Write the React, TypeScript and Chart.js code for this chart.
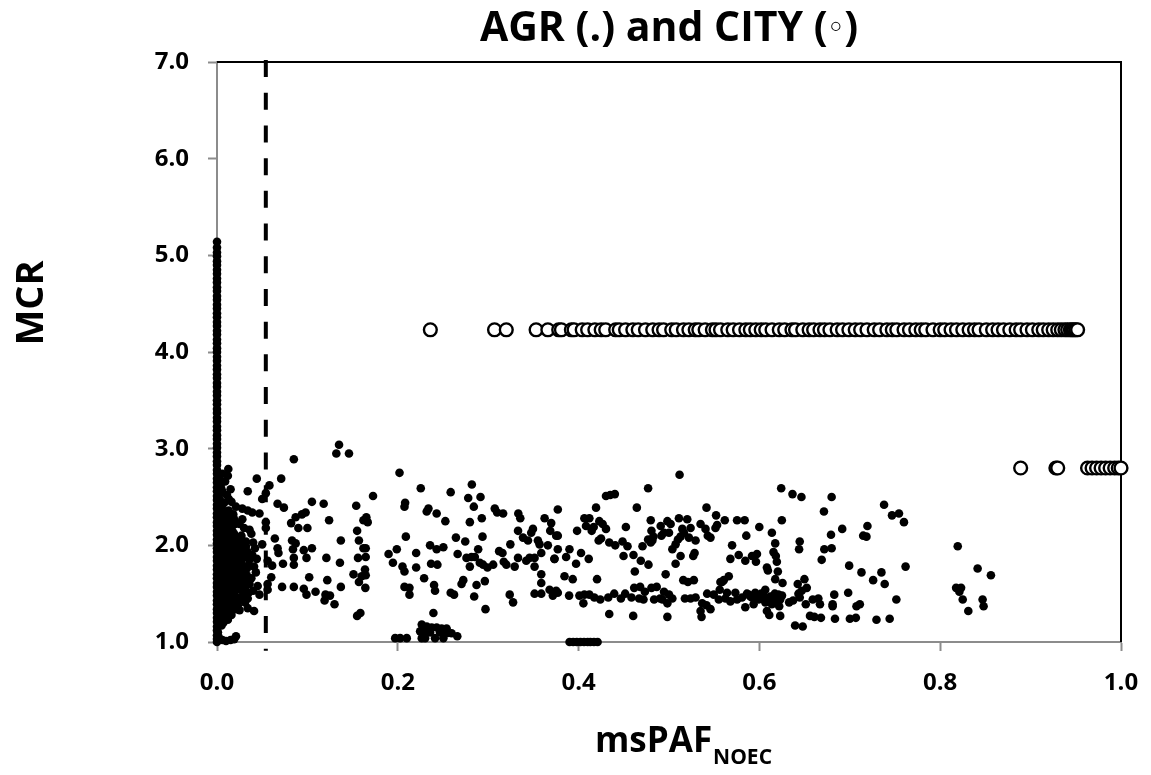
import { useEffect, useRef } from "react";
import { Chart, registerables } from "chart.js";

Chart.register(...registerables);

const FONT = "'Open Sans', 'DejaVu Sans', sans-serif";
const TITLE_PARTS = ["AGR (.) and CITY (", "◦", ")"];
const Y_TITLE = "MCR";
const X_TITLE_MAIN = "msPAF";
const X_TITLE_SUB = "NOEC";
const X_TICKS = [0, 0.2, 0.4, 0.6, 0.8, 1.0];
const Y_TICKS = [1, 2, 3, 4, 5, 6, 7];
const THRESHOLD_X = 0.054;
const THRESHOLD_Y = [7.02, 0.91];

// AGR points sitting on msPAF = 0 (the dense vertical bar)
const agrZeroY = [
  1.0, 1.03, 1.07, 1.12, 1.16, 1.21, 1.25, 1.3, 1.34, 1.39, 1.43, 1.48, 1.52, 1.57, 1.61, 1.66,
  1.7, 1.75, 1.79, 1.84, 1.88, 1.93, 1.97, 2.02, 2.06, 2.11, 2.15, 2.2, 2.24, 2.29, 2.33, 2.38,
  2.42, 2.47, 2.51, 2.56, 2.6, 2.65, 2.69, 2.74, 2.78, 2.83, 2.87, 2.92, 2.96, 3.01, 3.05, 3.1,
  3.14, 3.19, 3.23, 3.28, 3.32, 3.37, 3.41, 3.46, 3.5, 3.55, 3.59, 3.64, 3.68, 3.73, 3.77, 3.82,
  3.86, 3.91, 3.95, 4.0, 4.04, 4.09, 4.13, 4.18, 4.22, 4.27, 4.31, 4.36, 4.4, 4.45, 4.49, 4.54,
  4.58, 4.63, 4.67, 4.72, 4.76, 4.81, 4.85, 4.9, 4.94, 4.99, 5.03, 5.08, 5.14,
];

// AGR dense cluster just right of zero
const agrCluster: [number, number][] = [
  [0.004, 2.62], [0.006, 2.55], [0.003, 2.48], [0.008, 2.44], [0.005, 2.38], [0.01, 2.35], [0.004, 2.31],
  [0.007, 2.27], [0.012, 2.24], [0.003, 2.2], [0.009, 2.18], [0.006, 2.14], [0.014, 2.12], [0.004, 2.09],
  [0.011, 2.06], [0.007, 2.03], [0.016, 2.01], [0.003, 1.98], [0.01, 1.96], [0.005, 1.93], [0.013, 1.91],
  [0.008, 1.88], [0.004, 1.85], [0.011, 1.83], [0.006, 1.8], [0.015, 1.78], [0.003, 1.75], [0.009, 1.73],
  [0.005, 1.7], [0.012, 1.68], [0.007, 1.65], [0.004, 1.62], [0.01, 1.6], [0.006, 1.57], [0.013, 1.55],
  [0.003, 1.52], [0.008, 1.5], [0.005, 1.47], [0.011, 1.45], [0.004, 1.42], [0.007, 1.39], [0.009, 1.36],
  [0.005, 1.33], [0.006, 1.29], [0.004, 1.25],
  [0.002, 2.41], [0.007, 2.34], [0.003, 2.25], [0.009, 2.22], [0.002, 2.15], [0.008, 2.1], [0.002, 2.04],
  [0.006, 1.99], [0.009, 1.94], [0.002, 1.9], [0.007, 1.85], [0.009, 1.79], [0.002, 1.72], [0.008, 1.68],
  [0.002, 1.64], [0.008, 1.61], [0.003, 1.56], [0.01, 1.52], [0.002, 1.46], [0.007, 1.43], [0.002, 1.37],
  [0.004, 1.33], [0.008, 1.28], [0.003, 1.22], [0.005, 1.17], [0.003, 2.68], [0.006, 2.74],
  [0.014, 2.3], [0.013, 2.19], [0.015, 2.07], [0.012, 1.97], [0.016, 1.93], [0.014, 1.85], [0.012, 1.79],
  [0.016, 1.72], [0.014, 1.64], [0.012, 1.6], [0.015, 1.5], [0.013, 1.46], [0.014, 1.4], [0.012, 1.34],
  [0.018, 2.32], [0.02, 2.22], [0.017, 2.15], [0.022, 2.08], [0.019, 2.03], [0.024, 1.98], [0.018, 1.94],
  [0.021, 1.89], [0.025, 1.86], [0.017, 1.82], [0.023, 1.78], [0.019, 1.74], [0.026, 1.71], [0.016, 1.67],
  [0.022, 1.63], [0.02, 1.59], [0.024, 1.55], [0.017, 1.51], [0.021, 1.47], [0.018, 1.42], [0.023, 1.38],
  [0.019, 2.12], [0.021, 1.99], [0.018, 1.87], [0.02, 1.8], [0.022, 1.69], [0.019, 1.55], [0.018, 1.35],
  [0.028, 2.27], [0.03, 2.18], [0.027, 2.1], [0.032, 2.04], [0.029, 1.97], [0.034, 1.93], [0.031, 1.88],
  [0.027, 1.84], [0.035, 1.8], [0.03, 1.75], [0.033, 1.69], [0.028, 1.64], [0.036, 1.6], [0.031, 1.55],
  [0.029, 1.49], [0.034, 1.45], [0.027, 1.92], [0.029, 1.78], [0.027, 1.58],
  [0.038, 2.12], [0.04, 2.03], [0.042, 1.97], [0.039, 1.9], [0.044, 1.86], [0.041, 1.78], [0.043, 1.72],
  [0.038, 1.66], [0.045, 1.58], [0.04, 1.53],
  [0.005, 2.58], [0.011, 2.52], [0.016, 2.45], [0.006, 2.42], [0.013, 2.36], [0.019, 2.27], [0.025, 2.22],
  [0.011, 2.16], [0.017, 2.09], [0.026, 2.03], [0.032, 1.99], [0.009, 2.0], [0.015, 1.95], [0.023, 1.92],
  [0.028, 1.88], [0.036, 1.85], [0.011, 1.87], [0.006, 1.83], [0.02, 1.84], [0.026, 1.79], [0.033, 1.76],
  [0.012, 1.74], [0.017, 1.7], [0.025, 1.66], [0.031, 1.62], [0.009, 1.63], [0.015, 1.58], [0.022, 1.55],
  [0.028, 1.53], [0.035, 1.51], [0.011, 1.5], [0.018, 1.47], [0.025, 1.44], [0.031, 1.41], [0.014, 1.37],
  [0.021, 1.34], [0.009, 1.31], [0.016, 1.28], [0.012, 1.23], [0.007, 1.2],
  [0.013, 2.48], [0.015, 2.58], [0.021, 2.4], [0.009, 2.66], [0.012, 2.72],
  [0.002, 1.05], [0.006, 1.02], [0.01, 1.01], [0.015, 1.02], [0.019, 1.03], [0.001, 1.1], [0.002, 1.18],
];

// AGR scattered points
const agrScatter: [number, number][] = [
  [0.135, 3.04], [0.132, 2.95], [0.146, 2.95], [0.085, 2.89], [0.0125, 2.79], [0.044, 2.69], [0.071, 2.69],
  [0.058, 2.62], [0.054, 2.54], [0.05, 2.48], [0.034, 2.56], [0.067, 2.43], [0.074, 2.39], [0.105, 2.45],
  [0.118, 2.43], [0.154, 2.41], [0.028, 2.38], [0.034, 2.36], [0.039, 2.34], [0.047, 2.33], [0.098, 2.34],
  [0.094, 2.32], [0.087, 2.29], [0.082, 2.23], [0.124, 2.26], [0.162, 2.26], [0.1, 2.18], [0.09, 2.18],
  [0.054, 2.24], [0.054, 2.18], [0.036, 2.16], [0.155, 2.15], [0.064, 2.07], [0.083, 2.05], [0.087, 2.02],
  [0.137, 2.05], [0.157, 2.05], [0.05, 2.01], [0.067, 1.97], [0.068, 1.92], [0.084, 1.96], [0.085, 1.87],
  [0.105, 1.97], [0.096, 1.95], [0.099, 1.87], [0.121, 1.87], [0.162, 1.97], [0.156, 1.87], [0.056, 1.84],
  [0.073, 1.81], [0.085, 1.8], [0.136, 1.82], [0.061, 1.79], [0.151, 1.7], [0.157, 1.62], [0.16, 1.68],
  [0.102, 1.67], [0.06, 1.67], [0.122, 1.64], [0.056, 1.6], [0.056, 1.54], [0.072, 1.57], [0.085, 1.57],
  [0.096, 1.55], [0.099, 1.49], [0.109, 1.52], [0.12, 1.49], [0.125, 1.48], [0.119, 1.43], [0.13, 1.39],
  [0.137, 1.57], [0.047, 1.49], [0.155, 1.27], [0.025, 1.33], [0.034, 1.35], [0.041, 1.32], [0.021, 1.06],
  [0.1726, 2.51], [0.2019, 2.75], [0.2254, 2.59], [0.2585, 2.55], [0.2819, 2.63], [0.2779, 2.49],
  [0.2915, 2.5], [0.2841, 2.4], [0.2081, 2.44], [0.2074, 2.4], [0.2339, 2.38], [0.232, 2.35], [0.243, 2.33],
  [0.1652, 2.29], [0.1667, 2.24], [0.2526, 2.25], [0.2797, 2.24], [0.2929, 2.28], [0.3073, 2.38],
  [0.3099, 2.34], [0.3165, 2.33], [0.3333, 2.33], [0.3355, 2.28], [0.3624, 2.28], [0.3697, 2.23],
  [0.377, 2.37], [0.333, 2.15], [0.3385, 2.08], [0.344, 2.05], [0.3495, 2.17], [0.3476, 2.13], [0.355, 2.05],
  [0.3568, 2.01], [0.3686, 2.15], [0.3752, 2.1], [0.366, 2.0], [0.2089, 2.09], [0.2643, 2.08], [0.2746, 2.04],
  [0.2937, 2.09], [0.2357, 2.0], [0.243, 1.96], [0.2504, 1.98], [0.1989, 1.96], [0.1898, 1.91], [0.1946, 1.82],
  [0.2203, 1.92], [0.2203, 1.77], [0.1645, 1.97], [0.1645, 1.88], [0.2662, 1.91], [0.276, 1.87], [0.2815, 1.88],
  [0.2852, 1.88], [0.2889, 1.96], [0.2907, 1.82], [0.2944, 1.8], [0.2992, 1.77], [0.3055, 1.8], [0.2797, 1.78],
  [0.3121, 1.94], [0.3158, 1.92], [0.3172, 1.83], [0.3201, 1.8], [0.3245, 2.01], [0.3293, 1.78], [0.333, 1.87],
  [0.3421, 1.84], [0.3458, 1.87], [0.3513, 1.87], [0.3513, 1.78], [0.3587, 1.92], [0.3587, 1.7], [0.3587, 1.61],
  [0.3733, 1.86], [0.377, 1.96], [0.2368, 1.81], [0.2438, 1.8], [0.2052, 1.78], [0.2074, 1.73], [0.1637, 1.75],
  [0.1645, 1.69], [0.2291, 1.66], [0.2724, 1.64], [0.2705, 1.6], [0.2871, 1.59], [0.2963, 1.63], [0.2401, 1.59],
  [0.2412, 1.53], [0.2074, 1.57], [0.2129, 1.56], [0.2129, 1.49], [0.1641, 1.56], [0.2585, 1.51], [0.2622, 1.49],
  [0.2845, 1.47], [0.3238, 1.49], [0.3275, 1.41], [0.3513, 1.5], [0.3587, 1.5], [0.3679, 1.54], [0.3715, 1.48],
  [0.3752, 1.53], [0.297, 1.34], [0.2394, 1.3], [0.1586, 1.3],
  [0.2265, 1.18], [0.232, 1.16], [0.2375, 1.15], [0.243, 1.15], [0.2485, 1.14], [0.254, 1.14], [0.2247, 1.11],
  [0.2302, 1.11], [0.2357, 1.1], [0.2467, 1.1], [0.254, 1.09], [0.2595, 1.09], [0.2658, 1.06], [0.2265, 1.04],
  [0.2302, 1.04], [0.2412, 1.04], [0.2504, 1.04], [0.1971, 1.04], [0.2026, 1.04], [0.2099, 1.04],
  [0.5117, 2.73], [0.4769, 2.59], [0.4303, 2.51], [0.435, 2.52], [0.4401, 2.53], [0.4193, 2.39], [0.4644, 2.39],
  [0.5415, 2.39], [0.5521, 2.31], [0.5617, 2.26], [0.5753, 2.26], [0.5837, 2.26], [0.4064, 2.28], [0.4119, 2.28],
  [0.4082, 2.2], [0.4167, 2.19], [0.4229, 2.25], [0.4266, 2.22], [0.4303, 2.17], [0.4248, 2.07], [0.4222, 2.05],
  [0.4145, 2.15], [0.4523, 2.19], [0.3983, 2.15], [0.4798, 2.26], [0.4806, 2.15], [0.4908, 2.2], [0.4982, 2.25],
  [0.5018, 2.22], [0.5, 2.13], [0.511, 2.28], [0.5202, 2.27], [0.5239, 2.18], [0.5147, 2.17], [0.5165, 2.13],
  [0.5349, 2.22], [0.5404, 2.17], [0.5429, 2.1], [0.5459, 2.08], [0.5532, 2.21], [0.5514, 2.18], [0.5855, 2.1],
  [0.377, 2.1], [0.4339, 2.03], [0.4405, 2.0], [0.4486, 2.04], [0.4541, 1.99], [0.4707, 1.99], [0.4769, 2.06],
  [0.4798, 2.03], [0.4827, 2.09], [0.4816, 2.05], [0.4916, 2.1], [0.4945, 2.13], [0.5037, 1.96], [0.5073, 2.01],
  [0.5099, 2.06], [0.5128, 2.09], [0.522, 2.08], [0.5294, 2.05], [0.5698, 2.0], [0.3733, 1.86], [0.3899, 1.96],
  [0.3862, 1.88], [0.3972, 1.81], [0.4027, 1.92], [0.4112, 1.86], [0.4497, 1.89], [0.4607, 1.9], [0.4688, 1.84],
  [0.4773, 1.8], [0.5128, 1.89], [0.5073, 1.81], [0.5268, 1.89], [0.5283, 1.92], [0.5679, 1.86], [0.5771, 1.9],
  [0.5844, 1.84], [0.5918, 1.89], [0.4622, 1.73], [0.4963, 1.7], [0.3844, 1.68], [0.3935, 1.65], [0.4204, 1.65],
  [0.5158, 1.64], [0.5209, 1.62], [0.5275, 1.64], [0.5661, 1.68], [0.5569, 1.62], [0.5606, 1.64],
  [0.377, 1.51], [0.3895, 1.48], [0.4009, 1.48], [0.4064, 1.49], [0.4119, 1.49], [0.4174, 1.46], [0.424, 1.44],
  [0.4053, 1.4], [0.4328, 1.46], [0.4394, 1.5], [0.4468, 1.45], [0.4515, 1.5], [0.4585, 1.46], [0.4615, 1.56],
  [0.467, 1.45], [0.4681, 1.57], [0.4718, 1.44], [0.4733, 1.52], [0.4806, 1.56], [0.4864, 1.57], [0.4835, 1.44],
  [0.4901, 1.45], [0.4927, 1.44], [0.4945, 1.52], [0.5, 1.49], [0.5037, 1.45], [0.4982, 1.4], [0.5176, 1.45],
  [0.5239, 1.45], [0.5294, 1.46], [0.5422, 1.5], [0.5367, 1.4], [0.5415, 1.38], [0.5459, 1.34], [0.5349, 1.32],
  [0.536, 1.26], [0.5495, 1.49], [0.5561, 1.54], [0.5587, 1.62], [0.5551, 1.44], [0.5642, 1.51], [0.5624, 1.45],
  [0.5679, 1.42], [0.5753, 1.44], [0.5734, 1.51], [0.5808, 1.46], [0.5862, 1.5], [0.5844, 1.36], [0.4339, 1.29],
  [0.4604, 1.27], [0.4982, 1.26],
  [0.39, 1.0], [0.394, 1.0], [0.398, 1.0], [0.402, 1.0], [0.406, 1.0], [0.41, 1.0], [0.413, 1.0], [0.417, 1.0],
  [0.421, 1.0],
  [0.6241, 2.59], [0.6366, 2.53], [0.6465, 2.5], [0.6799, 2.5], [0.6714, 2.35], [0.7379, 2.42], [0.7467, 2.31],
  [0.7544, 2.33], [0.7599, 2.24], [0.6248, 2.26], [0.5999, 2.19], [0.6138, 2.13], [0.6916, 2.17], [0.7195, 2.2],
  [0.7148, 2.1], [0.7184, 2.09], [0.6792, 2.11], [0.6175, 2.02], [0.6446, 2.04], [0.6439, 1.96], [0.6718, 1.96],
  [0.6799, 1.97], [0.6689, 1.85], [0.5973, 1.91], [0.5962, 1.83], [0.6156, 1.93], [0.6182, 1.89], [0.6193, 1.83],
  [0.6083, 1.77], [0.6094, 1.74], [0.6204, 1.73], [0.6175, 1.65], [0.6256, 1.61], [0.6424, 1.6], [0.6498, 1.65],
  [0.6524, 1.56], [0.6993, 1.79], [0.7129, 1.72], [0.7258, 1.64], [0.735, 1.72], [0.7386, 1.6], [0.7617, 1.78],
  [0.6982, 1.51], [0.6828, 1.49], [0.5881, 1.49], [0.5918, 1.46], [0.5954, 1.51], [0.5991, 1.44], [0.5936, 1.39],
  [0.6046, 1.48], [0.6065, 1.54], [0.6065, 1.41], [0.6101, 1.44], [0.6138, 1.39], [0.6156, 1.46], [0.6193, 1.42],
  [0.6211, 1.49], [0.6219, 1.37], [0.623, 1.44], [0.59, 1.47], [0.596, 1.45], [0.602, 1.5], [0.6, 1.46],
  [0.612, 1.47], [0.608, 1.43], [0.617, 1.5], [0.625, 1.48], [0.6083, 1.32], [0.6109, 1.28], [0.623, 1.27],
  [0.6329, 1.41], [0.6373, 1.43], [0.6432, 1.5], [0.6468, 1.53], [0.6446, 1.46], [0.6513, 1.39], [0.659, 1.44],
  [0.6652, 1.45], [0.667, 1.39], [0.681, 1.39], [0.681, 1.37], [0.7074, 1.37], [0.7111, 1.39], [0.7515, 1.44],
  [0.656, 1.27], [0.6608, 1.26], [0.6681, 1.25], [0.6836, 1.24], [0.7001, 1.24], [0.7067, 1.25], [0.7295, 1.23],
  [0.7441, 1.24], [0.6395, 1.17], [0.6479, 1.16],
  [0.8194, 1.99], [0.8414, 1.76], [0.8561, 1.69], [0.8176, 1.56], [0.8231, 1.56], [0.8249, 1.44], [0.8212, 1.52],
  [0.8311, 1.32], [0.8469, 1.44], [0.848, 1.37],
];

// CITY points
const cityUpperY = 4.23;
const cityUpperX = [
  0.236, 0.307, 0.32, 0.353, 0.366, 0.378, 0.381, 0.392, 0.395, 0.404, 0.41, 0.418, 0.425, 0.43, 0.441, 0.445,
  0.452, 0.46, 0.466, 0.474, 0.482, 0.489, 0.494, 0.503, 0.508, 0.516, 0.522, 0.529, 0.533, 0.54, 0.548, 0.552,
  0.557, 0.565, 0.571, 0.578, 0.585, 0.59, 0.596, 0.602, 0.607, 0.614, 0.622, 0.628, 0.636, 0.64, 0.648, 0.655,
  0.66, 0.667, 0.672, 0.678, 0.686, 0.692, 0.699, 0.706, 0.712, 0.719, 0.727, 0.733, 0.741, 0.747, 0.752, 0.76,
  0.766, 0.773, 0.779, 0.784, 0.792, 0.8, 0.805, 0.812, 0.818, 0.825, 0.832, 0.838, 0.843, 0.851, 0.858, 0.864,
  0.87, 0.877, 0.884, 0.889, 0.896, 0.902, 0.909, 0.914, 0.92, 0.925, 0.93, 0.934, 0.938, 0.941, 0.944, 0.946,
  0.948, 0.95, 0.952,
];
const cityLowerY = 2.8;
const cityLowerX = [0.889, 0.928, 0.93, 0.963, 0.968, 0.973, 0.978, 0.983, 0.988, 0.993, 0.997, 1.0];

const AREA = { left: 217, right: 1121, top: 62, bottom: 642 };
const W = 1151;
const H = 775;

const decorPlugin = {
  id: "decor",
  beforeDatasetsDraw(chart: any) {
    const { ctx, chartArea } = chart;
    ctx.save();
    ctx.strokeStyle = "#000";
    ctx.lineWidth = 2;
    ctx.beginPath();
    ctx.moveTo(chartArea.left, chartArea.top);
    ctx.lineTo(chartArea.right, chartArea.top);
    ctx.lineTo(chartArea.right, chartArea.bottom);
    ctx.stroke();
    ctx.restore();
  },
  afterDraw(chart: any) {
    const { ctx, chartArea } = chart;
    const cx = (chartArea.left + chartArea.right) / 2;
    ctx.save();
    ctx.fillStyle = "#000";
    ctx.textBaseline = "alphabetic";
    ctx.textAlign = "left";

    // title, with a smaller ring glyph
    const big = `bold 41px ${FONT}`;
    const small = `bold 26px ${FONT}`;
    ctx.font = big;
    const tw1 = ctx.measureText(TITLE_PARTS[0]).width;
    const tw3 = ctx.measureText(TITLE_PARTS[2]).width;
    ctx.font = small;
    const tw2 = ctx.measureText(TITLE_PARTS[1]).width;
    let tx = cx - (tw1 + tw2 + tw3) / 2;
    ctx.font = big;
    ctx.fillText(TITLE_PARTS[0], tx, 41);
    tx += tw1;
    ctx.font = small;
    ctx.fillText(TITLE_PARTS[1], tx, 36);
    tx += tw2;
    ctx.font = big;
    ctx.fillText(TITLE_PARTS[2], tx, 41);

    // y axis title
    ctx.save();
    ctx.translate(43, 303);
    ctx.rotate(-Math.PI / 2);
    ctx.font = `bold 38px ${FONT}`;
    ctx.textAlign = "center";
    ctx.fillText(Y_TITLE, 0, 0);
    ctx.restore();

    // x axis title with subscript
    ctx.textAlign = "left";
    ctx.font = `bold 35px ${FONT}`;
    const w1 = ctx.measureText(X_TITLE_MAIN).width;
    ctx.font = `bold 21px ${FONT}`;
    const w2 = ctx.measureText(X_TITLE_SUB).width;
    const start = 683 - (w1 + w2) / 2;
    ctx.font = `bold 35px ${FONT}`;
    ctx.fillText(X_TITLE_MAIN, start, 752);
    ctx.font = `bold 21px ${FONT}`;
    ctx.fillText(X_TITLE_SUB, start + w1 + 1, 764);
    ctx.restore();
  },
};

export default function App() {
  const ref = useRef<HTMLCanvasElement | null>(null);

  useEffect(() => {
    if (!ref.current) return;
    const agr = [
      ...agrZeroY.map((y) => ({ x: 0, y })),
      ...agrCluster.map(([x, y]) => ({ x, y })),
      ...agrScatter.map(([x, y]) => ({ x, y })),
    ];
    const city = [
      ...cityUpperX.map((x) => ({ x, y: cityUpperY })),
      ...cityLowerX.map((x) => ({ x, y: cityLowerY })),
    ];
    const tickFont = { family: FONT, size: 24, weight: "bold" as const };
    const chart = new Chart(ref.current, {
      type: "scatter",
      data: {
        datasets: [
          {
            label: "threshold",
            data: THRESHOLD_Y.map((y) => ({ x: THRESHOLD_X, y })),
            showLine: true,
            borderColor: "#000",
            borderWidth: 4,
            borderDash: [17, 15.7],
            pointRadius: 0,
            clip: false as any,
            order: 0,
          },
          {
            label: "CITY",
            data: city,
            pointRadius: 6.4,
            pointBackgroundColor: "#fff",
            pointBorderColor: "#000",
            pointBorderWidth: 2.4,
            clip: false as any,
            order: 1,
          },
          {
            label: "AGR",
            data: agr,
            pointRadius: 4.3,
            pointBackgroundColor: "#000",
            pointBorderColor: "#000",
            pointBorderWidth: 0,
            clip: false as any,
            order: 2,
          },
        ],
      },
      options: {
        responsive: false,
        animation: false,
        events: [],
        layout: {
          padding: { left: 0, top: AREA.top, right: W - AREA.right, bottom: 0 },
        },
        plugins: {
          legend: { display: false },
          tooltip: { enabled: false },
          title: { display: false },
        },
        scales: {
          x: {
            type: "linear",
            position: "bottom",
            min: 0,
            max: 1,
            afterBuildTicks: (axis: any) => {
              axis.ticks = X_TICKS.map((value) => ({ value }));
            },
            afterFit: (axis: any) => {
              axis.height = H - AREA.bottom;
              axis.paddingLeft = 0;
              axis.paddingRight = 0;
            },
            ticks: {
              callback: (v: any) => Number(v).toFixed(1),
              font: tickFont,
              color: "#000",
              padding: 18,
              maxRotation: 0,
            },
            grid: {
              drawOnChartArea: false,
              drawTicks: true,
              tickLength: 9,
              tickColor: "#8c8c8c",
              tickWidth: 2,
            },
            border: { color: "#8c8c8c", width: 2 },
          },
          y: {
            type: "linear",
            min: 1,
            max: 7,
            afterBuildTicks: (axis: any) => {
              axis.ticks = Y_TICKS.map((value) => ({ value }));
            },
            afterFit: (axis: any) => {
              axis.width = AREA.left;
              axis.paddingTop = 0;
              axis.paddingBottom = 0;
            },
            ticks: {
              callback: (v: any) => Number(v).toFixed(1),
              font: tickFont,
              color: "#000",
              padding: 19,
            },
            grid: {
              drawOnChartArea: false,
              drawTicks: true,
              tickLength: 9,
              tickColor: "#8c8c8c",
              tickWidth: 2,
            },
            border: { color: "#8c8c8c", width: 2 },
          },
        },
      },
      plugins: [decorPlugin],
    });
    return () => chart.destroy();
  }, []);

  return (
    <div style={{ position: "fixed", left: 0, top: 0, width: W, height: H, background: "#fff" }}>
      <canvas ref={ref} width={W} height={H} style={{ width: W, height: H, display: "block" }} />
    </div>
  );
}
